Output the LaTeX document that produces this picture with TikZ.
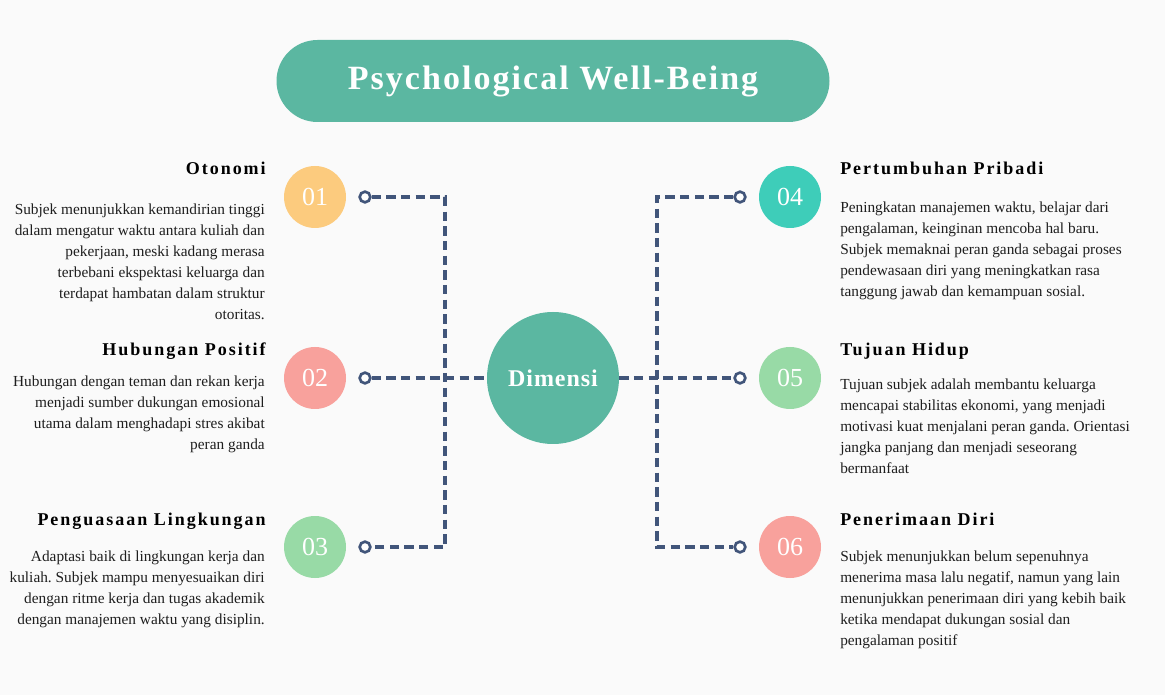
\documentclass[tikz,border=0pt]{standalone}
\usepackage{fontspec}
\setmainfont{Liberation Serif}
\frenchspacing
\definecolor{bgc}{HTML}{FAFAFA}
\definecolor{teal}{HTML}{5BB7A1}
\definecolor{cyel}{HTML}{FCCB7E}
\definecolor{cpink}{HTML}{F8A19C}
\definecolor{cgreen}{HTML}{98DAA6}
\definecolor{cturq}{HTML}{3ECDB9}
\definecolor{linec}{HTML}{41557A}
\definecolor{bodyc}{HTML}{1E1E1E}
\begin{document}
\begin{tikzpicture}[x=0.75pt,y=-0.75pt,
  numdot/.style={circle, minimum size=46.5pt, inner sep=0pt, text=white,
    font=\fontsize{19.5}{19.5}\selectfont},
  pin/.style={circle, draw=linec, fill=white, line width=2pt,
    minimum size=8pt, inner sep=0pt},
  link/.style={draw=linec, line width=2.5pt, dash pattern=on 7pt off 4pt},
  head/.style={inner sep=0pt, text=black,
    font=\fontsize{13.5}{16}\selectfont\bfseries\addfontfeatures{LetterSpace=11}},
  body/.style={inner sep=0pt, text=bodyc,
    font=\fontsize{11.5}{15.75}\selectfont},
  lbody/.style={body, align=right, anchor=north east},
  rbody/.style={body, align=left, anchor=north west}]

% canvas
\fill[bgc] (0,0) rectangle (1165,695);
\useasboundingbox (0,0) rectangle (1165,695);

% title pill
\node[fill=teal, rounded corners=30.75pt, minimum width=414.75pt,
  minimum height=61.5pt, text=white,
  font=\fontsize{25.5}{30}\selectfont\bfseries\addfontfeatures{LetterSpace=6}]
  (title) at (553,81) {Psychological Well-Being};

% central hub
\node[circle, fill=teal, minimum size=99pt, inner sep=0pt, text=white,
  font=\fontsize{18}{20}\selectfont\bfseries\addfontfeatures{LetterSpace=4}]
  (hub) at (553,378) {Dimensi};

% numbered dots
\node[numdot, fill=cyel]   (n1) at (315,197) {01};
\node[numdot, fill=cpink]  (n2) at (315,378) {02};
\node[numdot, fill=cgreen] (n3) at (315,547) {03};
\node[numdot, fill=cturq]  (n4) at (790,197) {04};
\node[numdot, fill=cgreen] (n5) at (790,378) {05};
\node[numdot, fill=cpink]  (n6) at (790,547) {06};

% connector end pins
\node[pin] (p1) at (365,197) {};
\node[pin] (p2) at (365,378) {};
\node[pin] (p3) at (365,547) {};
\node[pin] (p4) at (740,197) {};
\node[pin] (p5) at (740,378) {};
\node[pin] (p6) at (740,547) {};

% bracket corners
\coordinate (lt) at (445,197);
\coordinate (lb) at (445,547);
\coordinate (rt) at (657,197);
\coordinate (rb) at (657,547);

% dashed connectors
\draw[link] (p1) -- (lt) -- (lb) -- (p3);
\draw[link] (p2) -- (hub);
\draw[link] (p4) -- (rt) -- (rb) -- (p6);
\draw[link] (hub) -- (p5);

% left headings
\node[head, anchor=base east] (h1) at (266,175) {Otonomi};
\node[head, anchor=base east] (h2) at (266,356) {Hubungan Positif};
\node[head, anchor=base east] (h3) at (266,525) {Penguasaan Lingkungan};

% right headings
\node[head, anchor=base west] (h4) at (840,175) {Pertumbuhan Pribadi};
\node[head, anchor=base west] (h5) at (840,356) {Tujuan Hidup};
\node[head, anchor=base west] (h6) at (840,525) {Penerimaan Diri};

% left descriptions
\node[lbody] (b1) at (265,204) {Subjek menunjukkan kemandirian tinggi\\
  dalam mengatur waktu antara kuliah dan\\
  pekerjaan, meski kadang merasa\\
  terbebani ekspektasi keluarga dan\\
  terdapat hambatan dalam struktur\\
  otoritas.};
\node[lbody] (b2) at (265,376) {Hubungan dengan teman dan rekan kerja\\
  menjadi sumber dukungan emosional\\
  utama dalam menghadapi stres akibat\\
  peran ganda};
\node[lbody] (b3) at (265,551) {Adaptasi baik di lingkungan kerja dan\\
  kuliah. Subjek mampu menyesuaikan diri\\
  dengan ritme kerja dan tugas akademik\\
  dengan manajemen waktu yang disiplin.};

% right descriptions
\node[rbody] (b4) at (840,202) {Peningkatan manajemen waktu, belajar dari\\
  pengalaman, keinginan mencoba hal baru.\\
  Subjek memaknai peran ganda sebagai proses\\
  pendewasaan diri yang meningkatkan rasa\\
  tanggung jawab dan kemampuan sosial.};
\node[rbody] (b5) at (840,379) {Tujuan subjek adalah membantu keluarga\\
  mencapai stabilitas ekonomi, yang menjadi\\
  motivasi kuat menjalani peran ganda. Orientasi\\
  jangka panjang dan menjadi seseorang\\
  bermanfaat};
\node[rbody] (b6) at (840,551) {Subjek menunjukkan belum sepenuhnya\\
  menerima masa lalu negatif, namun yang lain\\
  menunjukkan penerimaan diri yang kebih baik\\
  ketika mendapat dukungan sosial dan\\
  pengalaman positif};
\end{tikzpicture}
\end{document}
